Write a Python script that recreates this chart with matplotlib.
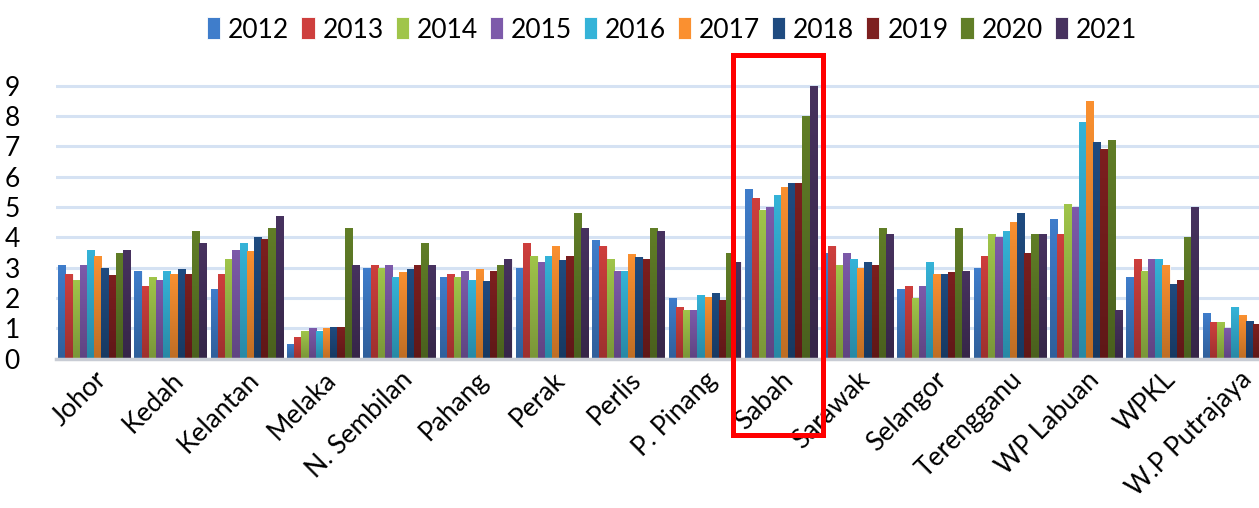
import matplotlib
matplotlib.use("Agg")
import matplotlib.pyplot as plt
import numpy as np
from matplotlib.patches import Rectangle
import matplotlib.transforms as mtransforms
from matplotlib.colors import to_rgb

plt.rcParams['font.family'] = ['Lato', 'DejaVu Sans']

states = ["Johor", "Kedah", "Kelantan", "Melaka", "N. Sembilan", "Pahang", "Perak",
          "Perlis", "P. Pinang", "Sabah", "Sarawak", "Selangor", "Terengganu",
          "WP Labuan", "WPKL", "W.P Putrajaya"]
years = ["2012", "2013", "2014", "2015", "2016", "2017", "2018", "2019", "2020", "2021"]

v2012 = [3.1, 2.9, 2.3, 0.5, 3.0, 2.7, 3.0, 3.9, 2.0, 5.6, 3.5, 2.3, 3.0, 4.6, 2.7, 1.5]
v2013 = [2.8, 2.4, 2.8, 0.7, 3.1, 2.8, 3.8, 3.7, 1.7, 5.3, 3.7, 2.4, 3.4, 4.1, 3.3, 1.2]
v2014 = [2.6, 2.7, 3.3, 0.9, 3.0, 2.7, 3.4, 3.3, 1.6, 4.9, 3.1, 2.0, 4.1, 5.1, 2.9, 1.2]
v2015 = [3.1, 2.6, 3.6, 1.0, 3.1, 2.9, 3.2, 2.9, 1.6, 5.0, 3.5, 2.4, 4.0, 5.0, 3.3, 1.0]
v2016 = [3.6, 2.9, 3.8, 0.9, 2.7, 2.6, 3.4, 2.9, 2.1, 5.4, 3.3, 3.2, 4.2, 7.8, 3.3, 1.7]
v2017 = [3.4, 2.8, 3.55, 1.0, 2.85, 2.95, 3.7, 3.45, 2.05, 5.65, 3.0, 2.8, 4.5, 8.5, 3.1, 1.45]
v2018 = [3.0, 2.95, 4.0, 1.05, 2.95, 2.55, 3.25, 3.35, 2.15, 5.8, 3.2, 2.8, 4.8, 7.15, 2.45, 1.25]
v2019 = [2.75, 2.8, 3.95, 1.05, 3.1, 2.9, 3.4, 3.3, 1.95, 5.8, 3.1, 2.85, 3.5, 6.9, 2.6, 1.15]
v2020 = [3.5, 4.2, 4.3, 4.3, 3.8, 3.1, 4.8, 4.3, 3.5, 8.0, 4.3, 4.3, 4.1, 7.2, 4.0, 1.5]
v2021 = [3.6, 3.8, 4.7, 3.1, 3.1, 3.3, 4.3, 4.2, 3.2, 9.0, 4.1, 2.9, 4.1, 1.6, 5.0, 1.2]
series = [v2012, v2013, v2014, v2015, v2016, v2017, v2018, v2019, v2020, v2021]

colors = ["#3F7DCB", "#CE3F3D", "#A0C54A", "#7D5AAA", "#35B3D8",
          "#FA9030", "#1F4B80", "#7D1F1F", "#617E27", "#47325F"]

W, H = 1259, 508
fig = plt.figure(figsize=(W / 100, H / 100), dpi=100)
ax_left = 56 / W
ax_bottom = (H - 358.7) / H
ax_w = 16 * 76.3 / W
ymax = 9.5
ax_h = ymax * 30.33 / H
ax = fig.add_axes([ax_left, ax_bottom, ax_w, ax_h])

x = np.arange(len(states))
bw = 0.0944


def grad_img(c, n=64):
    top = np.array(to_rgb(c))
    bot = top * 0.76
    t = np.linspace(0, 1, n)[:, None]
    img = top[None, :] * (1 - t) + bot[None, :] * t
    return img[:, None, :]


for i, (vals, c, yr) in enumerate(zip(series, colors, years)):
    bars = ax.bar(x - 0.472 + bw * (i + 0.5), vals, width=bw, color=c,
                  edgecolor="white", linewidth=0.6, label=yr, zorder=3)
    img = grad_img(c)
    for b in bars:
        bx, by = b.get_x(), b.get_y()
        bwid, bh = b.get_width(), b.get_height()
        im = ax.imshow(img, extent=[bx, bx + bwid, by, by + bh], aspect="auto",
                       origin="upper", zorder=3.5, interpolation="bilinear")
        im.set_clip_path(b)

ax.set_xlim(-0.5, len(states) - 0.5)
ax.set_ylim(0, ymax)
ax.set_yticks(range(0, 10))
ax.set_yticklabels([str(i) for i in range(0, 10)], fontsize=19)
ax.yaxis.grid(True, color="#D5E2F3", linewidth=2.2, zorder=0)
ax.set_axisbelow(True)
for s in ["top", "right", "left"]:
    ax.spines[s].set_visible(False)
ax.spines["bottom"].set_color("#C8CCD4")
ax.spines["bottom"].set_linewidth(2.5)
ax.spines["bottom"].set_zorder(4)
ax.tick_params(axis="y", length=0, pad=26)
ax.tick_params(axis="x", length=0, pad=6)
ax.set_xticks(x)
ax.set_xticklabels(states, rotation=45, ha="right", va="top",
                   rotation_mode="anchor", fontsize=19)

handles, labels = ax.get_legend_handles_labels()
fig.legend(handles, labels, loc="center", bbox_to_anchor=(672 / W, 1 - 30 / H),
           ncol=10, frameon=False, fontsize=19, handlelength=0.5, handleheight=0.9,
           handletextpad=0.3, columnspacing=0.45, borderaxespad=0)

# red highlight box around Sabah
trans = mtransforms.blended_transform_factory(ax.transData, fig.transFigure)
x0 = 9 - 0.5 - 0.13
x1 = 10 - 0.5 + 0.05
rect = Rectangle((x0, 1 - 435 / H), x1 - x0, (435 - 55) / H, transform=trans,
                 fill=False, edgecolor="#FF0000", linewidth=3.6, clip_on=False, zorder=10)
fig.add_artist(rect)

fig.savefig("out.png", dpi=100)
